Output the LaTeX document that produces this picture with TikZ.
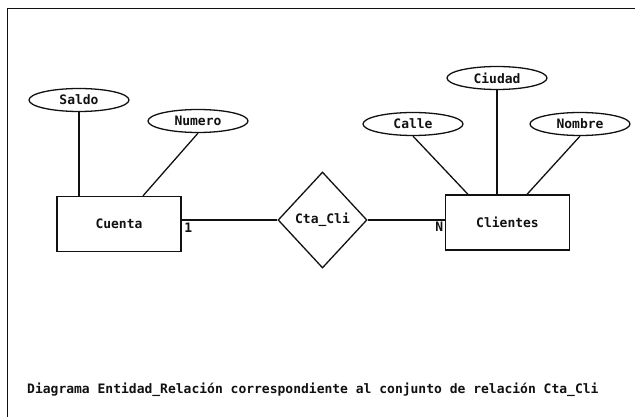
\documentclass[tikz,border=0pt]{standalone}
\usepackage{fontspec}
\newfontfamily\scanfont{DejaVu Sans Mono}
\usetikzlibrary{shapes.geometric}
\definecolor{ScanBlack}{HTML}{111111}

\tikzset{
  entidad/.style={draw, ScanBlack, line width=1.3pt, minimum width=124pt, minimum height=55pt},
  atributo/.style={draw, ScanBlack, ellipse, line width=1.3pt, minimum width=100pt, minimum height=23pt, inner sep=0pt},
  relacion/.style={draw, ScanBlack, diamond, line width=1.3pt, minimum width=89pt, minimum height=96pt, inner sep=0pt},
  enlace/.style={ScanBlack, line width=1.3pt}
}

\begin{document}
\begin{tikzpicture}[x=1pt, y=-1pt, font=\scanfont\bfseries\fontsize{13}{15}\selectfont]
      \useasboundingbox (0,0) rectangle (635,417);
      % Frame
      \draw[ScanBlack, line width=1pt] (7,417) -- (7,9) -- (635,9);
      % Entities and relation
      \node[entidad] (cuenta) at (119,224) {Cuenta};
      \node[entidad] (clientes) at (507.5,222.5) {Clientes};
      \node[relacion] (ctacli) at (322.5,220) {Cta\_Cli};
      % Attributes
      \node[atributo] (saldo) at (79,100) {Saldo};
      \node[atributo] (numero) at (198,121) {Numero};
      \node[atributo] (ciudad) at (497,78) {Ciudad};
      \node[atributo] (calle) at (413,124) {Calle};
      \node[atributo] (nombre) at (580,124) {Nombre};
      % Attribute lines
      \draw[enlace] (saldo.south) -- (saldo.south |- cuenta.north);
      \draw[enlace] (numero.south) -- ([xshift=24pt]cuenta.north);
      \draw[enlace] (calle.south) -- ([xshift=-39.5pt]clientes.north);
      \draw[enlace] (ciudad.south) -- (ciudad.south |- clientes.north);
      \draw[enlace] (nombre.south) -- ([xshift=19.5pt]clientes.north);
      % Relation lines
      \draw[enlace] (ctacli.west) -- (ctacli.west -| cuenta.east)
        node[below right, inner sep=2pt, ScanBlack] (uno) {1};
      \draw[enlace] (ctacli.east) -- (ctacli.east -| clientes.west)
        node[below left, inner sep=1pt, ScanBlack] (ene) {N};
      % Caption
      \node[anchor=west, inner sep=0pt, ScanBlack] (titulo) at (27,390)
        {Diagrama Entidad\_Relación correspondiente al conjunto de relación Cta\_Cli};
\end{tikzpicture}
\end{document}
